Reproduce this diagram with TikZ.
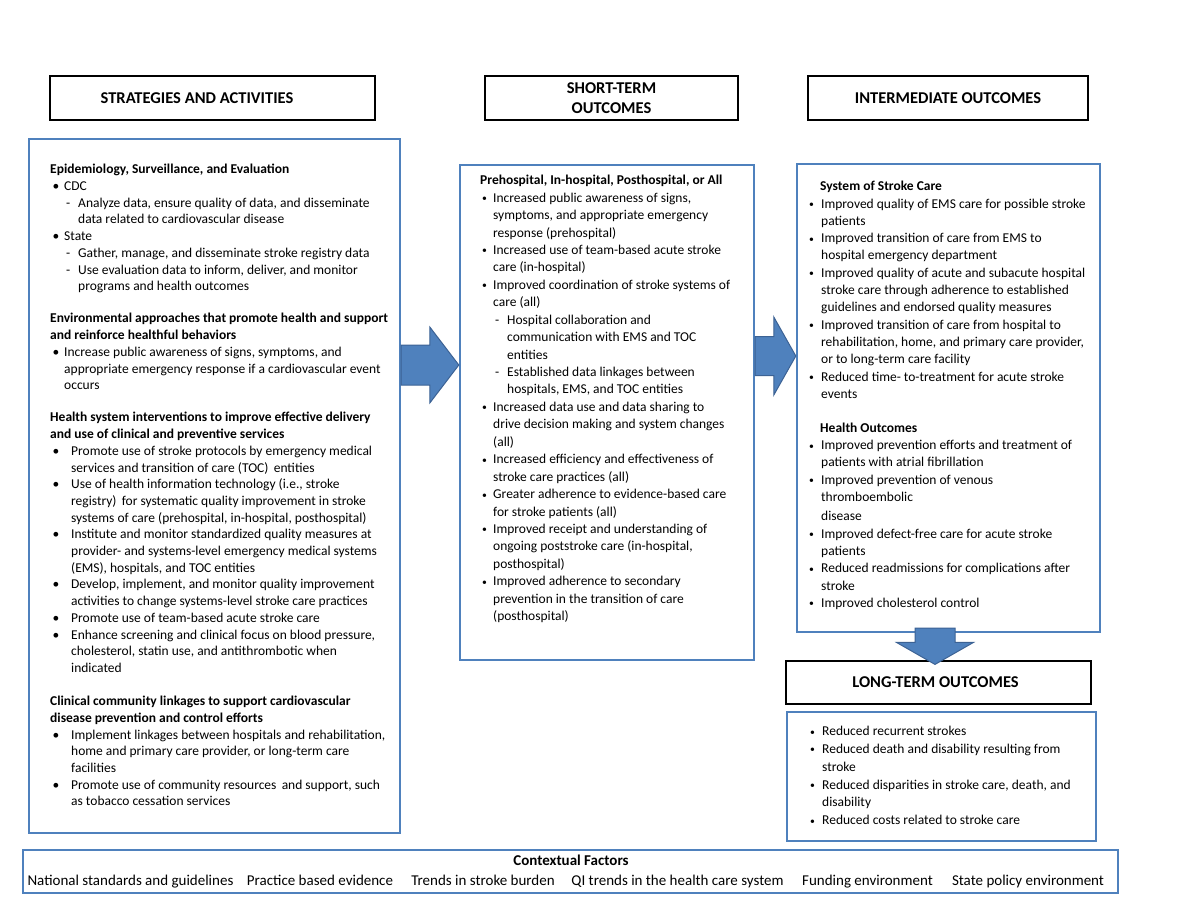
\documentclass[tikz,border=0pt]{standalone}
\usepackage{fontspec}
\setmainfont{Carlito}
\usetikzlibrary{calc}

\definecolor{boxblue}{RGB}{79,129,189}
\definecolor{arrowedge}{RGB}{60,98,148}

% list lines: bullet, small bullet, dash and follow-on line
\newcommand{\bu}[2]{\makebox[#1pt][l]{\hspace{2.5pt}\textbullet}#2}
\newcommand{\sbu}[2]{\makebox[#1pt][l]{\hspace{2pt}\raisebox{.6pt}{\scalebox{.72}{\textbullet}}}#2}
\newcommand{\da}[3]{\hspace*{#1pt}\makebox[#2pt][l]{-}#3}
\newcommand{\fo}[2]{\hspace*{#1pt}#2}
% block arrow from #1 to #2: half shaft, half head, head length
\newcommand{\harrow}[5]{%
  \filldraw[bigarrow] ($(#1)+(0,-#3)$) -- ($(#2)+(-#5,-#3)$) -- ($(#2)+(-#5,-#4)$) -- (#2)
    -- ($(#2)+(-#5,#4)$) -- ($(#2)+(-#5,#3)$) -- ($(#1)+(0,#3)$) -- cycle;}

\begin{document}
\begin{tikzpicture}[x=1pt, y=-1pt,
    headbox/.style={draw=black, line width=1.2pt, minimum height=44pt, inner sep=0pt, align=center,
      font=\bfseries\fontsize{16.5}{20}\selectfont},
    bluebox/.style={draw=boxblue, line width=2.4pt, inner sep=0pt},
    listtxt/.style={anchor=north west, inner sep=0pt, align=left},
    bigarrow/.style={fill=boxblue, draw=arrowedge, line width=1pt},
    ctxitem/.style={anchor=base, inner sep=0pt, font=\fontsize{15}{17}\selectfont}]

  \fill[white] (0,0) rectangle (1185,915);
  \useasboundingbox (0,0) rectangle (1185,915);

  % column headers
  \node[headbox, minimum width=325pt] (hstrat) at (212.5,98) {\hspace*{-31pt}STRATEGIES AND ACTIVITIES};
  \node[headbox, minimum width=253pt] (hshort) at (611.5,98) {SHORT-TERM\\OUTCOMES};
  \node[headbox, minimum width=280pt] (hinter) at (948,98) {INTERMEDIATE OUTCOMES};
  \node[headbox, minimum width=305pt, minimum height=43pt] (hlong) at (938.5,682.5) {\hspace*{-6pt}LONG-TERM OUTCOMES};

  % blue frames
  \node[bluebox, minimum width=371pt, minimum height=694pt] (strat) at (214.5,486) {};
  \node[bluebox, minimum width=294pt, minimum height=495pt] (short) at (607,412.5) {};
  \node[bluebox, minimum width=303pt, minimum height=468pt] (inter) at (948.5,398) {};
  \node[bluebox, minimum width=309pt, minimum height=129pt] (lterm) at (941.5,776.5) {};
  \node[bluebox, minimum width=1095pt, minimum height=43pt] (ctx) at (570.5,871.5) {};

  % strategies and activities
  \node[listtxt, font=\fontsize{13.5}{16.7}\selectfont] (stratList) at (50,162) {%
    \strut\textbf{Epidemiology, Surveillance, and Evaluation}\\
    \bu{14}{CDC}\\
    \da{16}{12}{Analyze data, ensure quality of data, and disseminate}\\
    \fo{28}{data related to cardiovascular disease}\\
    \bu{14}{State}\\
    \da{16}{12}{Gather, manage, and disseminate stroke registry data}\\
    \da{16}{12}{Use evaluation data to inform, deliver, and monitor}\\
    \fo{28}{programs and health outcomes}\\[15.5pt]
    \textbf{Environmental approaches that promote health and support}\\
    \textbf{and reinforce healthful behaviors}\\
    \bu{14}{Increase public awareness of signs, symptoms, and}\\
    \fo{14}{appropriate emergency response if a cardiovascular event}\\
    \fo{14}{occurs}\\[15.5pt]
    \textbf{Health system interventions to improve effective delivery}\\
    \textbf{and use of clinical and preventive services}\\
    \bu{21}{Promote use of stroke protocols by emergency medical}\\
    \fo{21}{services and transition of care (TOC)\, entities}\\
    \bu{21}{Use of health information technology (i.e., stroke}\\
    \fo{21}{registry)\, for systematic quality improvement in stroke}\\
    \fo{21}{systems of care (prehospital, in-hospital, posthospital)}\\
    \bu{21}{Institute and monitor standardized quality measures at}\\
    \fo{21}{provider- and systems-level emergency medical systems}\\
    \fo{21}{(EMS), hospitals, and TOC entities}\\
    \bu{21}{Develop, implement, and monitor quality improvement}\\
    \fo{21}{activities to change systems-level stroke care practices}\\
    \bu{21}{Promote use of team-based acute stroke care}\\
    \bu{21}{Enhance screening and clinical focus on blood pressure,}\\
    \fo{21}{cholesterol, statin use, and antithrombotic when}\\
    \fo{21}{indicated}\\[16.5pt]
    \textbf{Clinical community linkages to support cardiovascular}\\
    \textbf{disease prevention and control efforts}\\
    \bu{21}{Implement linkages between hospitals and rehabilitation,}\\
    \fo{21}{home and primary care provider, or long-term care}\\
    \fo{21}{facilities}\\
    \bu{21}{Promote use of community resources\, and support, such}\\
    \fo{21}{as tobacco cessation services}};

  % short-term outcomes
  \node[listtxt, font=\fontsize{13.5}{17.44}\selectfont] (shortList) at (480,172.3) {%
    \strut\textbf{Prehospital, In-hospital, Posthospital, or All}\\
    \sbu{13}{Increased public awareness of signs,}\\
    \fo{13}{symptoms, and appropriate emergency}\\
    \fo{13}{response (prehospital)}\\
    \sbu{13}{Increased use of team-based acute stroke}\\
    \fo{13}{care (in-hospital)}\\
    \sbu{13}{Improved coordination of stroke systems of}\\
    \fo{13}{care (all)}\\
    \da{15}{12}{Hospital collaboration and}\\
    \fo{27}{communication with EMS and TOC}\\
    \fo{27}{entities}\\
    \da{15}{12}{Established data linkages between}\\
    \fo{27}{hospitals, EMS, and TOC entities}\\
    \sbu{13}{Increased data use and data sharing to}\\
    \fo{13}{drive decision making and system changes}\\
    \fo{13}{(all)}\\
    \sbu{13}{Increased efficiency and effectiveness of}\\
    \fo{13}{stroke care practices (all)}\\
    \sbu{13}{Greater adherence to evidence-based care}\\
    \fo{13}{for stroke patients (all)}\\
    \sbu{13}{Improved receipt and understanding of}\\
    \fo{13}{ongoing poststroke care (in-hospital,}\\
    \fo{13}{posthospital)}\\
    \sbu{13}{Improved adherence to secondary}\\
    \fo{13}{prevention in the transition of care}\\
    \fo{13}{(posthospital)}};

  % intermediate outcomes
  \node[listtxt, font=\fontsize{13.5}{17.3}\selectfont] (interList) at (807,178.4) {%
    \strut\fo{13}{\textbf{System of Stroke Care}}\\
    \sbu{14}{Improved quality of EMS care for possible stroke}\\
    \fo{14}{patients}\\
    \sbu{14}{Improved transition of care from EMS to}\\
    \fo{14}{hospital emergency department}\\
    \sbu{14}{Improved quality of acute and subacute hospital}\\
    \fo{14}{stroke care through adherence to established}\\
    \fo{14}{guidelines and endorsed quality measures}\\
    \sbu{14}{Improved transition of care from hospital to}\\
    \fo{14}{rehabilitation, home, and primary care provider,}\\
    \fo{14}{or to long-term care facility}\\
    \sbu{14}{Reduced time- to-treatment for acute stroke}\\
    \fo{14}{events}\\[16.7pt]
    \fo{13}{\textbf{Health Outcomes}}\\
    \sbu{14}{Improved prevention efforts and treatment of}\\
    \fo{14}{patients with atrial fibrillation}\\
    \sbu{14}{Improved prevention of venous}\\
    \fo{14}{thromboembolic}\\[2pt]
    \fo{14}{disease}\\
    \sbu{14}{Improved defect-free care for acute stroke}\\
    \fo{14}{patients}\\
    \sbu{14}{Reduced readmissions for complications after}\\
    \fo{14}{stroke}\\
    \sbu{14}{Improved cholesterol control}};

  % long-term outcomes
  \node[listtxt, font=\fontsize{13.5}{17.8}\selectfont] (ltermList) at (808,723) {%
    \strut\sbu{14}{Reduced recurrent strokes}\\
    \sbu{14}{Reduced death and disability resulting from}\\
    \fo{14}{stroke}\\
    \sbu{14}{Reduced disparities in stroke care, death, and}\\
    \fo{14}{disability}\\
    \sbu{14}{Reduced costs related to stroke care}};

  % contextual factors
  \node[anchor=base, inner sep=0pt, font=\bfseries\fontsize{15}{17}\selectfont] (ctxhead) at (571,865) {Contextual Factors};
  \foreach \t/\x [count=\i] in {National standards and guidelines/130.5, Practice based evidence/320,
      Trends in stroke burden/483, QI trends in the health care system/677.5,
      Funding environment/867.5, State policy environment/1028} {
    \node[ctxitem] (ctx\i) at (\x,885) {\t};
  }

  % block arrows between the columns
  \coordinate (a1s) at (strat.east |- 0,365);
  \coordinate (a1e) at (short.west |- 0,365);
  \coordinate (a2s) at (short.east |- 0,356);
  \coordinate (a2e) at (inter.west |- 0,356);
  \harrow{a1s}{a1e}{20}{38}{29}
  \harrow{a2s}{a2e}{19.5}{39}{22}

  % down to the long-term outcomes
  \coordinate (ds) at (inter.south -| 935,0);
  \coordinate (de) at (hlong.north -| 935,0);
  \filldraw[bigarrow] ($(ds)+(-20,-5)$) -- ($(de)+(-20,-18)$) -- ($(de)+(-38.5,-18)$) -- ($(de)+(0,4)$)
    -- ($(de)+(38.5,-18)$) -- ($(de)+(20,-18)$) -- ($(ds)+(20,-5)$) -- cycle;
\end{tikzpicture}
\end{document}
